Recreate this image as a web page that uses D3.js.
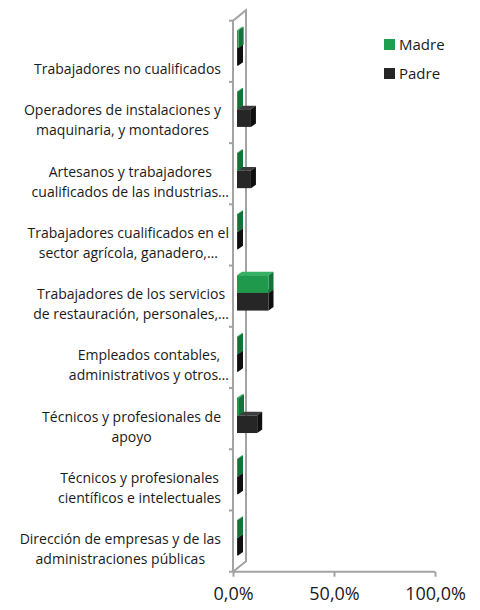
<!DOCTYPE html>
<html>
<head>
<meta charset="utf-8">
<script src="https://cdn.jsdelivr.net/npm/d3@7"></script>
<style>
  body { margin: 0; background: #fff; }
  text { font-family: "Open Sans", Lato, sans-serif; fill: #1a1a1a; }
</style>
</head>
<body>
<div id="chart"></div>
<script>
 //categories, top to bottom, already wrapped the way the picture shows them
 var categories = [
     ["Trabajadores no cualificados"],
     ["Operadores de instalaciones y", "maquinaria, y montadores"],
     ["Artesanos y trabajadores", "cualificados de las industrias…"],
     ["Trabajadores cualificados en el", "sector agrícola, ganadero,…"],
     ["Trabajadores de los servicios", "de restauración, personales,…"],
     ["Empleados contables,", "administrativos y otros…"],
     ["Técnicos y profesionales de", "apoyo"],
     ["Técnicos y profesionales", "científicos e intelectuales"],
     ["Dirección de empresas y de las", "administraciones públicas"]
 ];
 //percent values per series
 var madre = [0.8, 0.5, 0.5, 0.5, 15.6, 0.5, 1.0, 0.5, 0.5];
 var padre = [0.5, 6.9, 6.9, 0.5, 15.6, 0.5, 10.0, 0.5, 0.5];
 var seriesNames = ["Madre", "Padre"];
 var xTicks = [0, 50, 100];

 var width = 480,
     height = 610;

 //colours: front, top, side
 var colors = {
     Madre: { front: "#1f9a4c", top: "#34b262", side: "#13733a", legend: "#1f9e4f" },
     Padre: { front: "#262626", top: "#3c3c3c", side: "#0f0f0f", legend: "#262626" }
 };

 var svg = d3.select("#chart")
     .append("svg")
     .attr("width", width)
     .attr("height", height);

 //plot box (front plane)
 var plotTop = 20.7,
     plotBottom = 571.7;
 //3d depth of the walls and of the bars
 var wallDx = 13, wallDy = -10.5;
 var barDx = 5, barDy = -3.5;

 var xScale = d3.scaleLinear()
     .domain([0, 100])
     .range([233, 435]);

 var yScale = d3.scaleBand()
     .domain(d3.range(categories.length))
     .range([plotTop, plotBottom]);

 var lineColor = "#a3a3a3";

 //walls
 var walls = svg.append("g")
     .attr("fill", "none")
     .attr("stroke", lineColor)
     .attr("stroke-width", 2);
 var x0 = xScale(0);
 walls.append("path")
     .attr("d", "M" + x0 + "," + plotTop + "L" + (x0 + wallDx) + "," + (plotTop + wallDy) +
         "L" + (x0 + wallDx) + "," + (plotBottom + wallDy) + "L" + x0 + "," + plotBottom);

 //category axis
 var yAxis = svg.append("g");
 yAxis.append("line")
     .attr("x1", x0).attr("x2", x0)
     .attr("y1", plotTop).attr("y2", plotBottom)
     .attr("stroke", lineColor)
     .attr("stroke-width", 2);
 yAxis.selectAll(".tick")
     .data(d3.range(categories.length + 1))
     .enter()
     .append("line")
     .attr("x1", x0 - 4).attr("x2", x0 + 1)
     .attr("y1", function (d) { return plotTop + d * yScale.step(); })
     .attr("y2", function (d) { return plotTop + d * yScale.step(); })
     .attr("stroke", lineColor)
     .attr("stroke-width", 2);

 //value axis
 var xAxis = d3.axisBottom(xScale)
     .tickValues(xTicks)
     .tickSize(5)
     .tickFormat(function (d) { return d.toFixed(1).replace(".", ",") + "%"; });
 var xg = svg.append("g")
     .attr("transform", "translate(0," + plotBottom + ")")
     .call(xAxis);
 xg.select(".domain").attr("stroke", lineColor).attr("stroke-width", 2)
     .attr("d", "M" + x0 + ",0H" + xScale(100));
 xg.selectAll(".tick line").attr("stroke", lineColor).attr("stroke-width", 2);
 xg.selectAll(".tick text")
     .attr("y", 16)
     .attr("font-size", "18px")
     .attr("font-family", "'Open Sans', sans-serif")
     .attr("fill", "#1a1a1a");

 //bars: Padre below Madre inside each band
 var barH = 17.7,
     clusterOffset = 9.6;
 var barBase = x0 + 4;

 function drawBar(g, value, yTop, c) {
     var w = xScale(value) - xScale(0);
     var x1 = barBase, x2 = barBase + w, y1 = yTop, y2 = yTop + barH;
     g.append("path")
         .attr("fill", c.top)
         .attr("d", "M" + x1 + "," + y1 + "L" + (x1 + barDx) + "," + (y1 + barDy) +
             "L" + (x2 + barDx) + "," + (y1 + barDy) + "L" + x2 + "," + y1 + "Z");
     g.append("path")
         .attr("fill", c.side)
         .attr("d", "M" + x2 + "," + y1 + "L" + (x2 + barDx) + "," + (y1 + barDy) +
             "L" + (x2 + barDx) + "," + (y2 + barDy) + "L" + x2 + "," + y2 + "Z");
     g.append("rect")
         .attr("fill", c.front)
         .attr("x", x1)
         .attr("y", y1)
         .attr("width", Math.max(w, 0.5))
         .attr("height", barH);
 }

 var bars = svg.append("g");
 categories.forEach(function (cat, i) {
     var top = yScale(i) + clusterOffset;
     var g = bars.append("g");
     drawBar(g, padre[i], top + barH, colors.Padre);
     drawBar(g, madre[i], top, colors.Madre);
 });

 //category labels, block right-aligned, lines centred in the block
 var labels = svg.append("g").attr("font-size", "14px");
 categories.forEach(function (lines, i) {
     var c = yScale(i) + yScale.bandwidth() / 2;
     var grp = labels.append("g");
     var texts = lines.map(function (ln, j) {
         return grp.append("text")
             .attr("text-anchor", "middle")
             .attr("dy", "0.35em")
             .attr("y", c + 18 - (lines.length - 1 - j) * 20)
             .text(ln);
     });
     var maxW = d3.max(texts, function (t) { return t.node().getComputedTextLength(); });
     var right = lines.some(function (ln) { return ln.indexOf("…") >= 0; }) ? 229 : 221;
     texts.forEach(function (t) { t.attr("x", right - maxW / 2); });
 });

 //legend
 var legend = svg.append("g");
 seriesNames.forEach(function (name, i) {
     legend.append("rect")
         .attr("x", 384)
         .attr("y", 39 + i * 29)
         .attr("width", 11)
         .attr("height", 11)
         .attr("fill", colors[name].legend);
     legend.append("text")
         .attr("x", 399)
         .attr("y", 45 + i * 29)
         .attr("dy", "0.35em")
         .attr("font-size", "15px")
         .text(name);
 });
</script>
</body>
</html>
